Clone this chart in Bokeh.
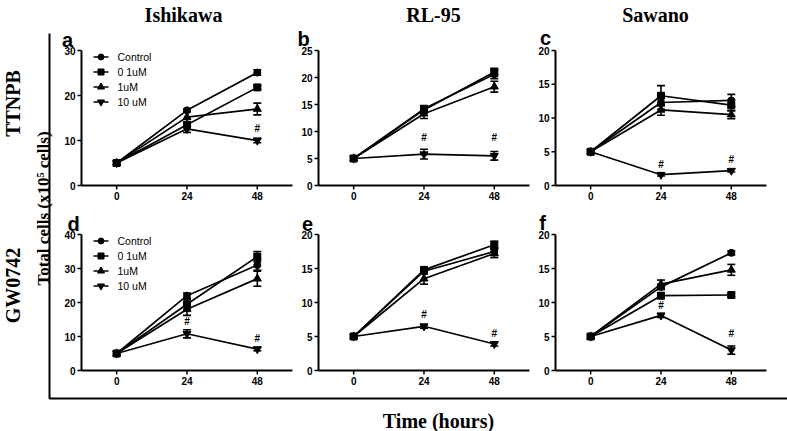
import numpy as np
from bokeh.plotting import figure
from bokeh.models import Range1d, ColumnDataSource, Whisker, TeeHead
from bokeh.embed import file_html
from bokeh.resources import INLINE
from bokeh.core.properties import value

# ---------------- data ----------------
hours = [0, 24, 48]
x_tick_labels = ["0", "24", "48"]
series_names = ["Control", "0 1uM", "1uM", "10 uM"]
series_markers = ["circle", "square", "triangle", "inverted_triangle"]
cell_lines = ["Ishikawa", "RL-95", "Sawano"]
treatments = ["TTNPB", "GW0742"]
panel_letters = ["a", "b", "c", "d", "e", "f"]

# mean values (x10^5 cells), rows = Control, 0 1uM, 1uM, 10 uM
a_mean = [[5.0, 16.7, 25.1], [5.0, 13.5, 21.8], [5.0, 15.2, 17.0], [5.0, 12.6, 10.0]]
a_sem = [[0, 0.3, 0.6], [0, 0.5, 0.4], [0, 1.2, 1.3], [0, 0.8, 0.5]]
b_mean = [[5.0, 14.2, 20.6], [5.0, 14.0, 21.0], [5.0, 13.3, 18.3], [5.0, 5.8, 5.5]]
b_sem = [[0, 0.6, 0.8], [0, 0.5, 0.7], [0, 0.9, 1.0], [0, 0.9, 0.8]]
c_mean = [[5.0, 12.3, 12.6], [5.0, 13.3, 11.9], [5.0, 11.2, 10.5], [5.0, 1.6, 2.2]]
c_sem = [[0, 1.0, 0.9], [0, 1.5, 0.8], [0, 0.8, 0.6], [0, 0.2, 0.2]]
d_mean = [[5.0, 22.0, 31.0], [5.0, 19.5, 33.5], [5.0, 18.0, 27.0], [5.0, 10.8, 6.3]]
d_sem = [[0, 0.8, 1.5], [0, 1.5, 1.5], [0, 1.8, 2.2], [0, 1.2, 0.5]]
e_mean = [[5.0, 14.6, 17.5], [5.0, 14.8, 18.5], [5.0, 13.5, 17.2], [5.0, 6.5, 3.9]]
e_sem = [[0, 0.4, 0.5], [0, 0.3, 0.5], [0, 0.8, 0.6], [0, 0.3, 0.3]]
f_mean = [[5.0, 12.3, 17.3], [5.0, 11.0, 11.1], [5.0, 12.7, 14.8], [5.0, 8.1, 3.0]]
f_sem = [[0, 0.4, 0.3], [0, 0.4, 0.3], [0, 0.6, 0.8], [0, 0.3, 0.6]]

# significance marks (#): hour, height
a_hash = ([48], [12.7])
b_hash = ([24, 48], [8.8, 8.8])
c_hash = ([24, 48], [3.1, 3.8])
d_hash = ([24, 48], [14.4, 9.3])
e_hash = ([24, 48], [8.2, 5.5])
f_hash = ([24, 48], [9.6, 5.4])

# y axis max and tick step
y_max = [30, 25, 20, 40, 20, 20]
y_step = [10, 5, 5, 10, 5, 5]

means = [a_mean, b_mean, c_mean, d_mean, e_mean, f_mean]
sems = [a_sem, b_sem, c_sem, d_sem, e_sem, f_sem]
hashes = [a_hash, b_hash, c_hash, d_hash, e_hash, f_hash]

# ---------------- layout (page pixels) ----------------
W, H = 787, 431
LEFT, TOP = 0, 0
col_axis_x = [81, 318, 555]
row_zero_y = [185, 370]
row_top_y = [50, 234]
px_per_hour = 2.93
x_axis_from, x_axis_to = -12, 60
letter_pos = [(67, 39), (303, 38), (545, 37), (73, 223), (307, 223), (542, 222)]
title_pos = [(183, 14), (433, 14), (655, 14)]
row_label_pos = [(12, 103), (12, 285)]

p = figure(width=W, height=H, x_range=Range1d(LEFT, LEFT + W), y_range=Range1d(TOP + H, TOP),
           output_backend="svg", toolbar_location=None, min_border=0,
           x_axis_location=None, y_axis_location=None, outline_line_color=None)
p.grid.visible = False
p.background_fill_color = "white"
p.border_fill_color = "white"

SANS = value("Liberation Sans")
SERIF = value("Liberation Serif")

for i in range(6):
    r, c = divmod(i, 3)
    ax = col_axis_x[c]
    x0 = ax + (-x_axis_from) * px_per_hour  # pixel of hour 0
    zero = row_zero_y[r]
    s = (zero - row_top_y[r]) / y_max[i]
    xn, yn = f"x{i}", f"y{i}"
    p.extra_x_ranges[xn] = Range1d((LEFT - x0) / px_per_hour, (LEFT + W - x0) / px_per_hour)
    p.extra_y_ranges[yn] = Range1d((zero - (TOP + H)) / s, (zero - TOP) / s)
    kw = dict(x_range_name=xn, y_range_name=yn)

    # axes
    p.segment(x0=[x_axis_from, x_axis_from], y0=[0, 0], x1=[x_axis_from, x_axis_to], y1=[y_max[i], 0],
              line_color="black", line_width=2, **kw)
    yt = list(range(0, y_max[i] + 1, y_step[i]))
    tick_h = 4 / px_per_hour
    tick_v = 4 / s
    p.segment(x0=[x_axis_from] * len(yt), y0=yt, x1=[x_axis_from - tick_h] * len(yt), y1=yt,
              line_color="black", line_width=1.5, **kw)
    p.segment(x0=hours, y0=[0] * 3, x1=hours, y1=[-tick_v] * 3, line_color="black", line_width=1.5, **kw)
    p.text(x=[x_axis_from] * len(yt), y=yt, text=[str(v) for v in yt], x_offset=-6,
           text_align="right", text_baseline="middle", text_font=SANS, text_font_style="bold",
           text_font_size="10px", text_color="black", **kw)
    p.text(x=hours, y=[0] * 3, text=x_tick_labels, y_offset=6, text_align="center",
           text_baseline="top", text_font=SANS, text_font_style="bold", text_font_size="10px",
           text_color="black", **kw)

    # series
    for k in range(4):
        vals = means[i][k]
        errs = sems[i][k]
        p.line(hours, vals, line_color="black", line_width=1.7, **kw)
        sz = 7 if series_markers[k] in ("circle", "square") else 8
        p.scatter(hours, vals, marker=series_markers[k], size=sz, fill_color="black",
                  line_color="black", **kw)
        idx = [j for j in range(3) if errs[j] > 0]
        src = ColumnDataSource(dict(x=[hours[j] for j in idx],
                                    upper=[vals[j] + errs[j] for j in idx],
                                    lower=[vals[j] - errs[j] for j in idx]))
        wk = Whisker(source=src, base="x", upper="upper", lower="lower",
                     line_color="black", line_width=1.6,
                     upper_head=TeeHead(size=8, line_width=1.6, line_color="black"),
                     lower_head=TeeHead(size=8, line_width=1.6, line_color="black"), **kw)
        p.add_layout(wk)

    hx, hy = hashes[i]
    p.text(x=hx, y=hy, text=["#"] * len(hx), text_align="center", text_baseline="middle",
           text_font=SANS, text_font_style="bold", text_font_size="10px", text_color="black", **kw)

    # panel letter
    lx, ly = letter_pos[i]
    p.text(x=[lx], y=[ly], text=[panel_letters[i]], text_align="center", text_baseline="alphabetic",
           text_font=SANS, text_font_style="bold", text_font_size="20px", text_color="black")

# legends in panels a and d
for r in range(2):
    top = row_top_y[r]
    ax = col_axis_x[0]
    for k in range(4):
        yy = top + 6.5 + 15 * k
        p.segment(x0=[ax + 12], y0=[yy], x1=[ax + 27], y1=[yy], line_color="black", line_width=1.7)
        sz = 6 if series_markers[k] in ("circle", "square") else 7
        p.scatter([ax + 19.5], [yy], marker=series_markers[k], size=sz, fill_color="black",
                  line_color="black")
        p.text(x=[ax + 36], y=[yy], text=[series_names[k]], text_align="left", text_baseline="middle",
               text_font=SANS, text_font_size="10.5px", text_color="black")

# column titles
for c in range(3):
    tx, ty = title_pos[c]
    p.text(x=[tx], y=[ty], text=[cell_lines[c]], text_align="center", text_baseline="middle",
           text_font=SERIF, text_font_style="bold", text_font_size="20px", text_color="black")

# row labels
for r in range(2):
    rx, ry = row_label_pos[r]
    p.text(x=[rx], y=[ry], text=[treatments[r]], angle=np.pi / 2, text_align="center",
           text_baseline="middle", text_font=SERIF, text_font_style="bold", text_font_size="20px",
           text_color="black")

# common axis titles
p.text(x=[43], y=[208], text=["Total cells (x10\u2075 cells)"], angle=np.pi / 2, text_align="center",
       text_baseline="middle", text_font=SERIF, text_font_style="bold", text_font_size="17px",
       text_color="black")
p.text(x=[438], y=[420], text=["Time (hours)"], text_align="center", text_baseline="middle",
       text_font=SERIF, text_font_style="bold", text_font_size="20px", text_color="black")

# outer L frame
p.line([49, 49, LEFT + W], [33, 398, 398], line_color="black", line_width=2)

open("out.html", "w").write(file_html(p, INLINE))
